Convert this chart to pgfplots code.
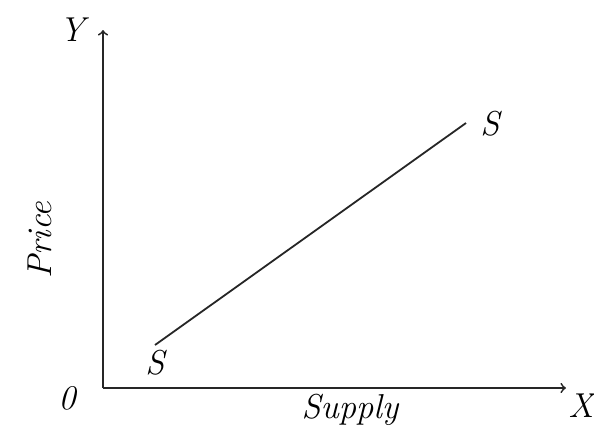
\documentclass[border=0pt]{standalone}
\usepackage{pgfplots}
\pgfplotsset{compat=1.18}
\begin{document}
\begin{tikzpicture}
% fixed page frame around the diagram
\useasboundingbox (-51.5pt,-26.5pt) rectangle (245.5pt,194pt);
\begin{axis}[
  at={(0pt,0pt)}, anchor=origin,
  scale only axis, width=231.5pt, height=179pt,
  xmin=0, xmax=463, ymin=0, ymax=358,
  axis lines=left,
  axis line style={line width=0.9pt, black!85, -to},
  xtick=\empty, ytick=\empty,
  clip=false,
  font=\LARGE\itshape,
]
% supply curve
\addplot[line width=0.9pt, black!85] coordinates {(52,43) (363,265)};
\node at (axis cs:52,25) {S};
\node at (axis cs:387,264) {S};
\node at (axis cs:-31,358) {Y};
\node at (axis cs:-36,-10) {0};
\node at (axis cs:247,-22) {Supply};
\node at (axis cs:478,-18) {X};
\node[rotate=90] at (axis cs:-63,148) {Price};
\end{axis}
\end{tikzpicture}
\end{document}
